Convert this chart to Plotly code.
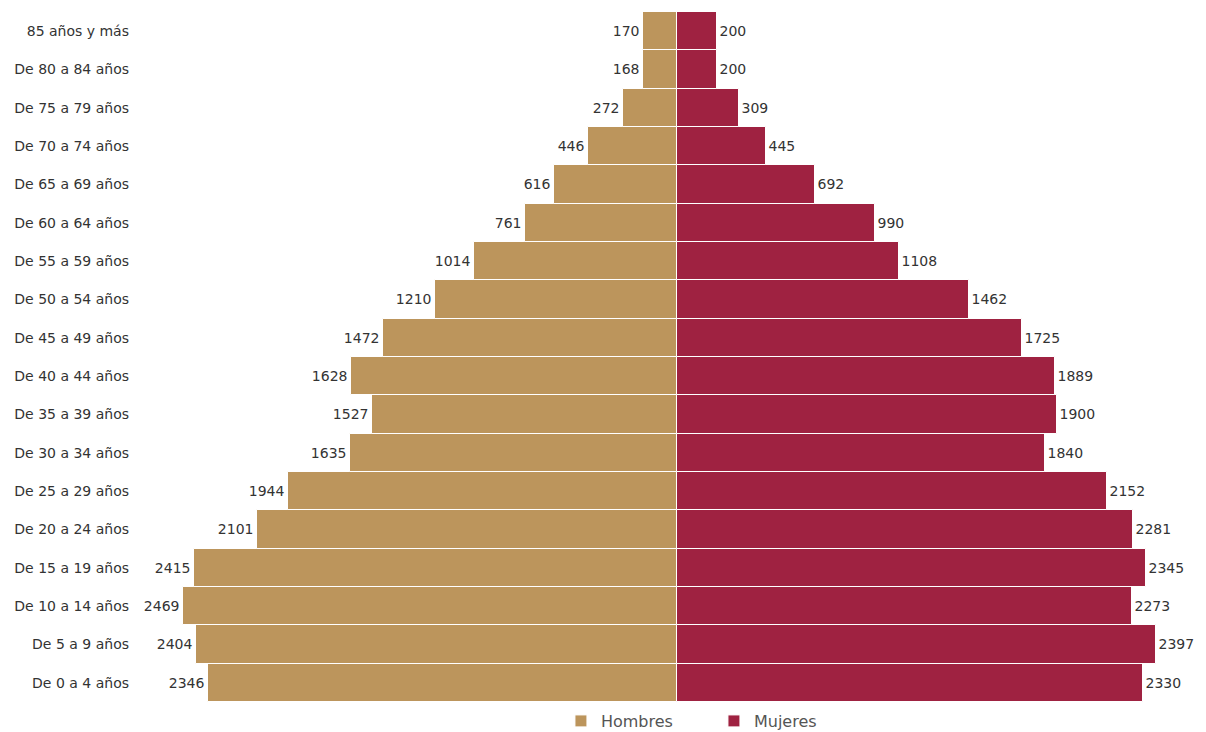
import plotly.graph_objects as go

categories = ["De 0 a 4 años", "De 5 a 9 años", "De 10 a 14 años", "De 15 a 19 años",
              "De 20 a 24 años", "De 25 a 29 años", "De 30 a 34 años", "De 35 a 39 años",
              "De 40 a 44 años", "De 45 a 49 años", "De 50 a 54 años", "De 55 a 59 años",
              "De 60 a 64 años", "De 65 a 69 años", "De 70 a 74 años", "De 75 a 79 años",
              "De 80 a 84 años", "85 años y más"]
hombres = [2346, 2404, 2469, 2415, 2101, 1944, 1635, 1527, 1628, 1472, 1210, 1014,
           761, 616, 446, 272, 168, 170]
mujeres = [2330, 2397, 2273, 2345, 2281, 2152, 1840, 1900, 1889, 1725, 1462, 1108,
           990, 692, 445, 309, 200, 200]

FONT = "DejaVu Sans"
TXT = "#333333"

fig = go.Figure()
fig.add_trace(go.Bar(
    y=categories, x=[-v for v in hombres], orientation="h", name="Hombres",
    marker=dict(color="#BC955C", line=dict(color="white", width=1)),
    text=[str(v) for v in hombres], textposition="outside",
    textfont=dict(family=FONT, size=14, color=TXT), cliponaxis=False,
))
fig.add_trace(go.Bar(
    y=categories, x=mujeres, orientation="h", name="Mujeres",
    marker=dict(color="#9F2241", line=dict(color="white", width=1)),
    text=[str(v) for v in mujeres], textposition="outside",
    textfont=dict(family=FONT, size=14, color=TXT), cliponaxis=False,
))

fig.update_layout(
    width=1206, height=732,
    margin=dict(l=139, r=5, t=12, b=30, autoexpand=False),
    barmode="relative", bargap=0,
    plot_bgcolor="white", paper_bgcolor="white",
    font=dict(family=FONT, size=14, color=TXT),
    xaxis=dict(range=[-2690, 2620], showgrid=False, zeroline=False,
               showticklabels=False, fixedrange=True),
    yaxis=dict(showgrid=False, zeroline=False, ticks="", ticklabelstandoff=9,
               tickfont=dict(family=FONT, size=14, color=TXT),
               categoryorder="array", categoryarray=categories),
    legend=dict(orientation="h", xref="container", yref="container",
                x=0.592, xanchor="center", y=0.015, yanchor="middle",
                font=dict(family=FONT, size=16, color="#555555"),
                entrywidth=108, entrywidthmode="pixels"),
    showlegend=True,
)

fig.write_html("out.html")
